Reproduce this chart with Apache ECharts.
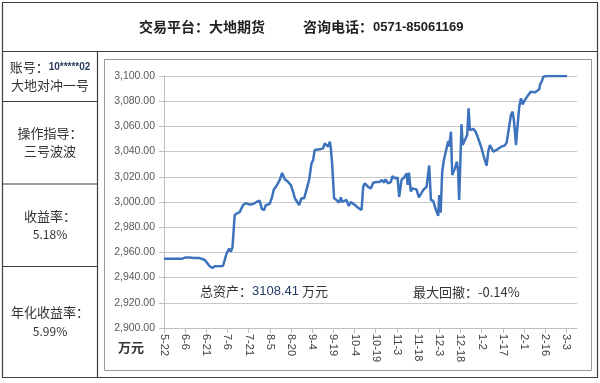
<!DOCTYPE html>
<html><head><meta charset="utf-8">
<script src="https://cdn.jsdelivr.net/npm/echarts@6/dist/echarts.min.js"></script>
<style>html,body{margin:0;padding:0;background:#fff}#c{width:600px;height:383px}</style>
</head><body><div id="c"></div>
<script>
// x tick labels (every 15 days from 5-22)
const tickLabels = ['5-22','6-6','6-21','7-6','7-21','8-5','8-20','9-4','9-19','10-4','10-19','11-3','11-18','12-3','12-18','1-2','1-17','2-1','2-16','3-3'];
const tickDays = [0,15,30,45,60,75,90,105,120,135,150,165,180,195,210,225,240,255,270,285];
// y axis
const yMin = 2900, yMax = 3100, yStep = 20;
// series: day offset from 5-22, and total assets (万元)
const days = [0,13.0,15.4,18.2,21.1,25.3,26.5,28.9,32.4,34.3,35.9,41.8,44.2,46.1,47.3,48.5,50.1,51.8,53.7,56.0,57.9,60.8,63.1,65.9,67.8,69.3,70.9,72.1,74.9,76.6,77.8,79.7,82.0,83.7,85.6,87.9,89.8,91.5,92.7,95.7,97.4,99.3,101.0,102.8,104.5,105.6,106.8,110.4,112.7,113.9,115.1,116.3,117.5,118.2,119.1,120.5,122.2,123.9,125.3,126.2,127.6,129.3,130.9,132.4,135.2,138.0,140.0,141.1,142.3,144.6,146.5,148.2,150.6,152.9,154.1,156.0,157.0,158.8,160.7,161.9,163.6,165.5,166.6,168.3,170.2,171.9,172.6,173.5,174.9,175.8,177.2,178.9,180.6,182.0,183.6,186.0,187.2,187.9,189.1,190.7,191.9,193.1,194.3,195.0,196.0,197.1,198.3,200.2,201.4,202.1,203.3,204.2,206.1,207.5,208.4,209.1,210.8,211.6,213.2,214.8,215.8,216.7,219.1,220.8,222.6,225.0,226.9,228.6,229.7,230.9,232.1,233.3,235.7,237.3,239.2,240.3,241.5,242.8,243.9,245.8,247.0,247.9,249.4,250.3,251.7,252.9,254.1,255.7,258.1,259.8,261.2,262.8,264.4,265.9,266.4,267.6,268.7,271.1,280.0,284.1,285.5];
const values = [2955,2955,2956,2956,2955.5,2955.5,2956,2954,2949,2947.6,2949,2949.2,2958.7,2963,2960.5,2964,2989.7,2991,2992,2997.6,2999,2997.9,2998.4,3000.2,3001,2994.5,2993.6,2997.4,2998.5,3004,3010,3012.7,3017.5,3023,3018,3016,3013.5,3008,3003,2997.6,3003,3003,3010,3017.5,3030.7,3033,3041.3,3041.8,3042.6,3046.6,3045.8,3044,3047.8,3042.6,3030.7,3003,3001.6,2999.5,3003.7,3000,3001,3001.7,2996.8,3000,2997.6,2995,2993.7,3012,3014.8,3012,3010.8,3015.3,3015.9,3015.9,3017.5,3015.5,3018,3014.8,3016,3020.6,3018.8,3019.3,3004,3017.5,3019.6,3022.8,3013.5,3023.3,3008.2,3010.8,3009.5,3010,3003.7,3004,3009.5,3012,3013.5,3029,3001.6,3001,2996.3,2992.3,2989,3005.6,2991.5,3024,3033.3,3042.6,3048.4,3044,3055.8,3021.4,3026.7,3032,3024,3001.6,3061.6,3045.2,3049.2,3053.2,3074.4,3057,3058,3055.8,3050.5,3042.6,3034.7,3028.8,3040,3045.2,3044,3040,3041.3,3042.6,3044,3044.5,3045,3047.4,3048,3069,3071.7,3065,3045.2,3058.5,3075.6,3082.3,3077.5,3081,3085,3087.5,3086.3,3087,3088.3,3089.5,3093.4,3095.5,3099.4,3100,3100,3100,3100];

const cjk = '"Noto Sans CJK SC", sans-serif';
const lat = '"Liberation Sans", sans-serif';
const fmtY = v => {
  const s = v.toFixed(2);
  const [i, d] = s.split('.');
  return i.replace(/\B(?=(\d{3})+(?!\d))/g, ',') + '.' + d;
};
const line = (x1,y1,x2,y2,c,w) => ({type:'line', shape:{x1,y1,x2,y2}, style:{stroke:c, lineWidth:w}, z:10});
const txt = (x,y,text,opt) => Object.assign({type:'text', x, y, style:Object.assign({text, font:'13px '+cjk, fill:'#333', align:'center', verticalAlign:'middle'}, opt||{}), z:20});
const tc = '#404040';

const chart = echarts.init(document.getElementById('c'), null, {renderer:'canvas'});
chart.setOption({
  animation:false,
  backgroundColor:'#fff',
  grid:{left:164, right:23, top:76, bottom:55},
  xAxis:{
    type:'value', min:0, max:292.6,
    axisLine:{show:true, onZero:false, lineStyle:{color:'#bfbfbf', width:1}},
    axisTick:{show:true, customValues:tickDays, length:5, lineStyle:{color:'#bfbfbf'}},
    axisLabel:{customValues:tickDays, rotate:-90, margin:6, fontSize:11, color:'#404040', fontFamily:lat,
      formatter:v => { const k = tickDays.indexOf(Math.round(v)); return k >= 0 ? tickLabels[k] : ''; }},
    splitLine:{show:false}
  },
  yAxis:{
    type:'value', min:yMin, max:yMax, interval:yStep,
    axisLine:{show:true, lineStyle:{color:'#bfbfbf'}},
    axisTick:{show:true, length:5, lineStyle:{color:'#bfbfbf'}},
    axisLabel:{margin:9, fontSize:10.5, color:'#595959', fontFamily:lat, formatter:fmtY},
    splitLine:{show:true, lineStyle:{color:'#c8c8c8', width:1.2}}
  },
  series:[{
    type:'line', showSymbol:false, symbol:'none',
    data: days.map((d,i)=>[d, values[i]]),
    lineStyle:{color:'#3d72bd', width:2.5},
    z:5
  }],
  graphic:[
    {type:'rect', shape:{x:104.5, y:59.5, width:487, height:311}, style:{fill:null, stroke:'#9a9a9a', lineWidth:1}, z:9, silent:true},
    {type:'rect', shape:{x:2.5, y:2.5, width:595, height:375}, style:{fill:null, stroke:tc, lineWidth:1.2}, z:10, silent:true},
    line(2.5,51.5,597.5,51.5,tc,1.2),
    line(97.5,51.5,97.5,377.5,tc,1.2),
    line(2.5,101.5,97.5,101.5,tc,1.2),
    line(2.5,184,97.5,184,tc,1.2),
    line(2.5,266.5,97.5,266.5,tc,1.2),
    txt(139,27,'交易平台：大地期货',{align:'left', font:'bold 14px '+cjk, fill:'#222'}),
    {type:'text', x:303, y:27, z:20, style:{align:'left', verticalAlign:'middle', rich:{a:{font:'bold 14px '+cjk, fill:'#222'}, b:{font:'bold 13px '+lat, fill:'#222'}}, text:'{a|咨询电话：}{b|0571-85061169}'}},
    {type:'text', x:50, y:67, z:20, style:{align:'center', verticalAlign:'middle', rich:{a:{font:'13px '+cjk, fill:'#333'}, b:{font:'bold 10px '+lat, fill:'#2a3b5c'}}, text:'{a|账号：}{b|10*****02}'}},
    txt(50,85,'大地对冲一号'),
    txt(50,133,'操作指导：'),
    txt(50,151,'三号波波'),
    txt(50,216,'收益率：'),
    txt(50,234,'5.18%',{font:'12px '+cjk}),
    txt(50,312,'年化收益率：'),
    txt(50,331,'5.99%',{font:'12px '+cjk}),
    txt(131,347,'万元',{font:'bold 13px '+cjk, fill:'#333'}),
    {type:'text', x:200, y:291, z:20, style:{align:'left', verticalAlign:'middle', rich:{a:{font:'13px '+cjk, fill:'#333'}, b:{font:'13px '+lat, fill:'#1f3864'}}, text:'{a|总资产：}{b|3108.41}{a| 万元}'}},
    txt(413,292,'最大回撤：-0.14%',{align:'left'})
  ]
});
</script></body></html>
